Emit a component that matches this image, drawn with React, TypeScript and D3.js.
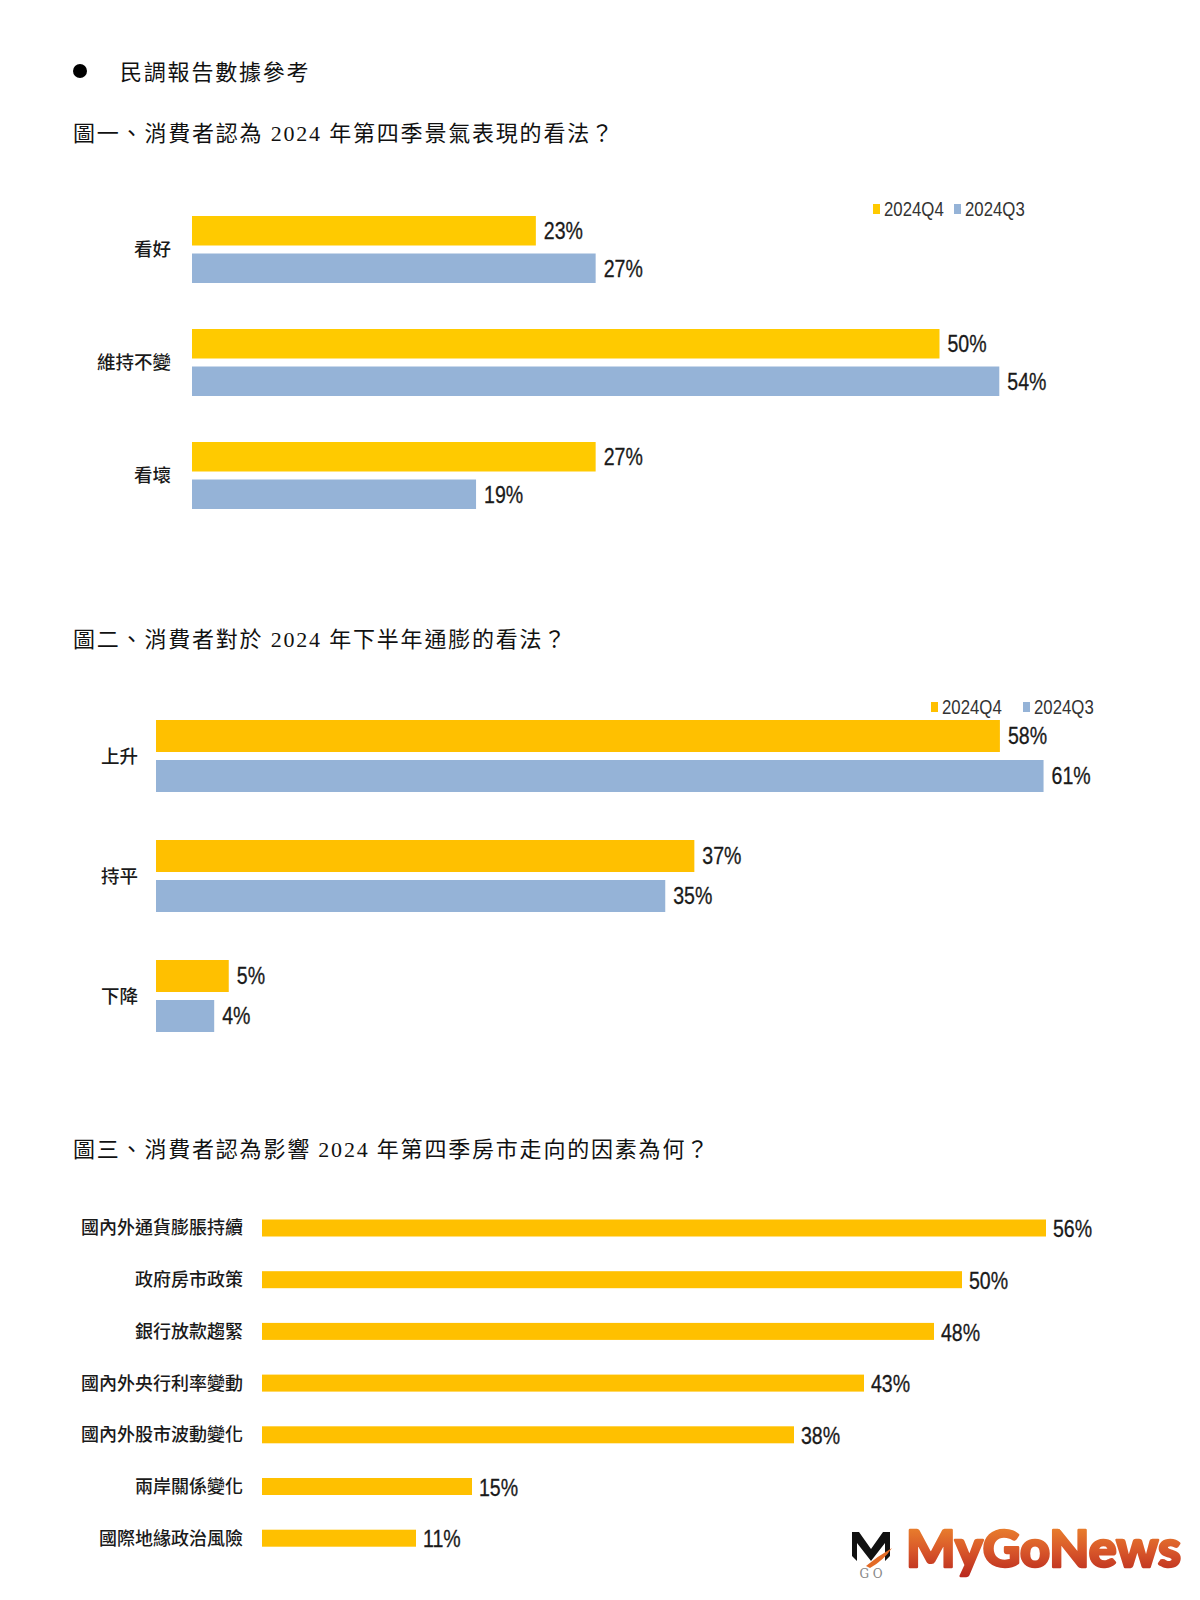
import React from "react";
import * as d3 from "d3";

// ---------- data ----------
const chart1Categories = ["看好", "維持不變", "看壞"];
const chart1Q4 = [23, 50, 27];
const chart1Q3 = [27, 54, 19];

const chart2Categories = ["上升", "持平", "下降"];
const chart2Q4 = [58, 37, 5];
const chart2Q3 = [61, 35, 4];

const chart3Categories = [
  "國內外通貨膨脹持續",
  "政府房市政策",
  "銀行放款趨緊",
  "國內外央行利率變動",
  "國內外股市波動變化",
  "兩岸關係變化",
  "國際地緣政治風險",
];
const chart3Values = [56, 50, 48, 43, 38, 15, 11];

const seriesNames = ["2024Q4", "2024Q3"];
const seriesKeys = ["q4", "q3"];

const headingText = "民調報告數據參考";
const title1 = "圖一、消費者認為 2024 年第四季景氣表現的看法？";
const title2 = "圖二、消費者對於 2024 年下半年通膨的看法？";
const title3 = "圖三、消費者認為影響 2024 年第四季房市走向的因素為何？";

// ---------- styles ----------
const YELLOW1 = "#FFCA00";
const YELLOW = "#FFC000";
const BLUE = "#95B3D7";
const CJK = "'Noto Sans CJK TC', 'Noto Sans CJK SC', sans-serif";
const TITLE_FONT = "'Liberation Serif', 'Noto Sans CJK TC', serif";
const NUM_FONT = "'Liberation Sans', Arial, sans-serif";

function NarrowText(props: {
  x: number;
  y: number;
  size: number;
  sx?: number;
  fill?: string;
  weight?: number;
  children: React.ReactNode;
}) {
  const sx = props.sx ?? 0.85;
  return (
    <text
      transform={`translate(${props.x},${props.y}) scale(${sx},1)`}
      dy="0.36em"
      fontFamily={NUM_FONT}
      fontSize={props.size}
      fontWeight={props.weight ?? 400}
      fill={props.fill ?? "#1a1a1a"}
      stroke={props.fill ?? "#1a1a1a"}
      strokeWidth={0.3}
    >
      {props.children}
    </text>
  );
}

type GroupedProps = {
  cats: string[];
  q4: number[];
  q3: number[];
  x0: number;
  pxPerPct: number;
  yStart: number;
  step: number;
  groupH: number;
  barH: number;
  labelRight: number;
  legendX: number[];
  legendY: number;
  yellow: string;
};

function GroupedChart(p: GroupedProps) {
  const x = d3.scaleLinear().domain([0, 100]).range([p.x0, p.x0 + 100 * p.pxPerPct]);
  const pi = (p.step - p.groupH) / p.step;
  const y = d3
    .scaleBand<string>()
    .domain(p.cats)
    .range([p.yStart - (pi / 2) * p.step, p.yStart - (pi / 2) * p.step + p.cats.length * p.step])
    .paddingInner(pi)
    .paddingOuter(pi / 2);
  const gap = p.groupH - 2 * p.barH;
  const subStep = p.barH + gap;
  const sub = d3
    .scaleBand<string>()
    .domain(seriesKeys)
    .range([0, p.groupH])
    .paddingInner(gap / subStep)
    .paddingOuter(0);
  const colors = [p.yellow, BLUE];
  const vals = [p.q4, p.q3];
  return (
    <g>
      {p.cats.map((c, i) => (
        <g key={c}>
          <text
            x={p.labelRight}
            y={(y(c) as number) + y.bandwidth() / 2}
            dy="0.36em"
            textAnchor="end"
            fontFamily={CJK}
            fontWeight={500}
            fontSize={18.5}
            fill="#1a1a1a"
          >
            {c}
          </text>
          {seriesKeys.map((k, si) => {
            const v = vals[si][i];
            const by = (y(c) as number) + (sub(k) as number);
            return (
              <g key={k}>
                <rect x={x(0)} y={by} width={x(v) - x(0)} height={sub.bandwidth()} fill={colors[si]} />
                <NarrowText x={x(v) + 8} y={by + sub.bandwidth() / 2} size={23}>
                  {v}%
                </NarrowText>
              </g>
            );
          })}
        </g>
      ))}
      {seriesNames.map((s, si) => (
        <g key={s}>
          <rect x={p.legendX[si]} y={p.legendY - 5} width={7} height={10} fill={colors[si]} />
          <text
            transform={`translate(${p.legendX[si] + 11},${p.legendY}) scale(0.84,1)`}
            dy="0.36em"
            fontFamily={NUM_FONT}
            fontSize={20}
            fill="#333"
          >
            {s}
          </text>
        </g>
      ))}
    </g>
  );
}

function SingleChart() {
  const x = d3.scaleLinear().domain([0, 100]).range([262, 262 + 100 * 14.0]);
  const step = 51.7;
  const barH = 17;
  const pi = (step - barH) / step;
  const y = d3
    .scaleBand<string>()
    .domain(chart3Categories)
    .range([1219.5 - (pi / 2) * step, 1219.5 - (pi / 2) * step + chart3Categories.length * step])
    .paddingInner(pi)
    .paddingOuter(pi / 2);
  return (
    <g>
      {chart3Categories.map((c, i) => {
        const v = chart3Values[i];
        const by = y(c) as number;
        return (
          <g key={c}>
            <text
              x={243}
              y={by + barH / 2}
              dy="0.36em"
              textAnchor="end"
              fontFamily={CJK}
              fontWeight={500}
              fontSize={18}
              fill="#1a1a1a"
            >
              {c}
            </text>
            <rect x={x(0)} y={by} width={x(v) - x(0)} height={y.bandwidth()} fill={YELLOW} />
            <NarrowText x={x(v) + 7} y={by + barH / 2 + 1} size={23}>
              {v}%
            </NarrowText>
          </g>
        );
      })}
    </g>
  );
}

function Logo() {
  return (
    <g>
      <defs>
        <linearGradient id="logoGrad" x1="0" y1="0" x2="0" y2="1">
          <stop offset="0%" stopColor="#F0922E" />
          <stop offset="55%" stopColor="#D9582A" />
          <stop offset="100%" stopColor="#B8271E" />
        </linearGradient>
      </defs>
      <path
        d="M852 1532 L859 1532 L871 1549 L883 1532 L890 1532 L890 1556 L885 1561 L885 1543 L871 1561 L857 1543 L857 1561 L852 1556 Z"
        fill="#111"
      />
      <path d="M866 1566 Q878 1556 892 1548 Q884 1560 870 1568 Z" fill="#E36A25" />
      <text x={871} y={1578} textAnchor="middle" fontFamily="'DejaVu Serif', serif" fontSize={12} fill="#888">
        G O
      </text>
      <text
        x={906}
        y={1567}
        fontFamily="Lato, 'Open Sans', sans-serif"
        fontWeight={900}
        fontSize={52}
        textLength={275}
        lengthAdjust="spacingAndGlyphs"
        fill="url(#logoGrad)"
        stroke="url(#logoGrad)"
        strokeWidth={2.5}
        strokeLinejoin="round"
      >
        MyGoNews
      </text>
    </g>
  );
}

export default function App() {
  return (
    <svg
      width={1200}
      height={1600}
      viewBox="0 0 1200 1600"
      style={{ position: "absolute", left: 0, top: 0, background: "#fff" }}
    >
      <rect x={0} y={0} width={1200} height={1600} fill="#fff" />
      <circle cx={80} cy={71} r={7} fill="#000" />
      <text x={120} y={80} fontFamily={TITLE_FONT} fontSize={22} letterSpacing={1.8} fill="#111">
        {headingText}
      </text>
      <text x={73} y={141} fontFamily={TITLE_FONT} fontSize={22} letterSpacing={1.8} fill="#111">
        {title1}
      </text>
      <text x={73} y={647} fontFamily={TITLE_FONT} fontSize={22} letterSpacing={1.8} fill="#111">
        {title2}
      </text>
      <text x={73} y={1157} fontFamily={TITLE_FONT} fontSize={22} letterSpacing={1.8} fill="#111">
        {title3}
      </text>

      <GroupedChart
        cats={chart1Categories}
        q4={chart1Q4}
        q3={chart1Q3}
        x0={192}
        pxPerPct={14.95}
        yStart={216}
        step={113}
        groupH={67}
        barH={29.5}
        labelRight={171}
        legendX={[873, 954]}
        legendY={209}
        yellow={YELLOW1}
      />
      <GroupedChart
        cats={chart2Categories}
        q4={chart2Q4}
        q3={chart2Q3}
        x0={156}
        pxPerPct={14.55}
        yStart={720}
        step={120}
        groupH={72}
        barH={32}
        labelRight={138}
        legendX={[931, 1023]}
        legendY={707}
        yellow={YELLOW}
      />
      <SingleChart />
      <Logo />
    </svg>
  );
}
